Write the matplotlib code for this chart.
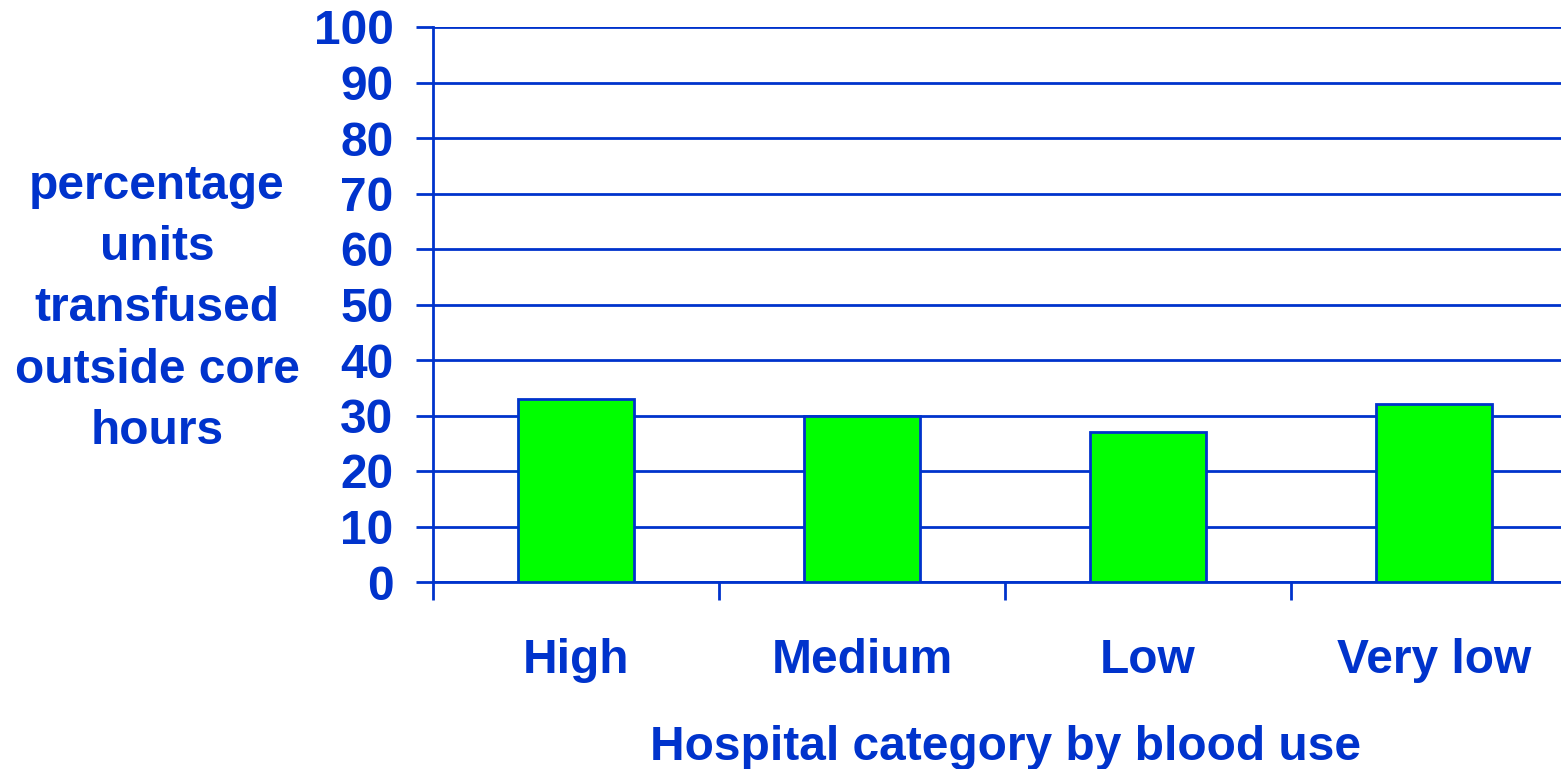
import matplotlib
matplotlib.use("Agg")
import matplotlib.pyplot as plt

categories = ["High", "Medium", "Low", "Very low"]
pct_outside_core = [33, 30, 27, 32]
y_ticks = list(range(0, 101, 10))

blue = "#0033cc"
green = "#00ff00"
fs = 34.5

plt.rcParams["font.family"] = ["Liberation Sans", "DejaVu Sans"]
plt.rcParams["font.weight"] = "bold"

fig = plt.figure(figsize=(15.61, 7.69), dpi=100)
W, H = 1561, 769
ax = fig.add_axes([433 / W, 187 / H, 1144 / W, 555 / H])

pos = [i + 0.5 for i in range(len(categories))]
ax.bar(pos, pct_outside_core, width=0.405, color=green, edgecolor=blue,
       linewidth=2, zorder=3)

ax.set_xlim(0, len(categories))
ax.set_ylim(0, 100)
ax.set_yticks(y_ticks)
ax.set_yticklabels([str(v) for v in y_ticks])
ax.grid(axis="y", color=blue, linewidth=2, zorder=0)
ax.set_axisbelow(True)

# category boundaries get the tick marks, names sit between them
ax.set_xticks(range(len(categories) + 1))
ax.set_xticklabels([])
ax.set_xticks(pos, minor=True)
ax.set_xticklabels(categories, minor=True)
ax.tick_params(axis="x", which="major", direction="out", length=13,
               width=2, color=blue)
ax.tick_params(axis="x", which="minor", length=0, pad=40,
               labelsize=fs, labelcolor=blue)
ax.tick_params(axis="y", direction="out", length=12.5, width=2, color=blue,
               pad=16, labelsize=fs, labelcolor=blue)

for side in ["top", "right"]:
    ax.spines[side].set_visible(False)
ax.spines["left"].set_color(blue)
ax.spines["left"].set_linewidth(2)
ax.spines["bottom"].set_color(blue)
ax.spines["bottom"].set_linewidth(2)

fig.text(157 / W, 1 - 309 / H,
         "percentage\nunits\ntransfused\noutside core\nhours",
         ha="center", va="center", multialignment="center",
         fontsize=fs, color=blue, linespacing=1.47)
fig.text(1005 / W, 1 - 760 / H, "Hospital category by blood use",
         ha="center", va="baseline", fontsize=fs, color=blue)

fig.savefig("out.png", dpi=100)
